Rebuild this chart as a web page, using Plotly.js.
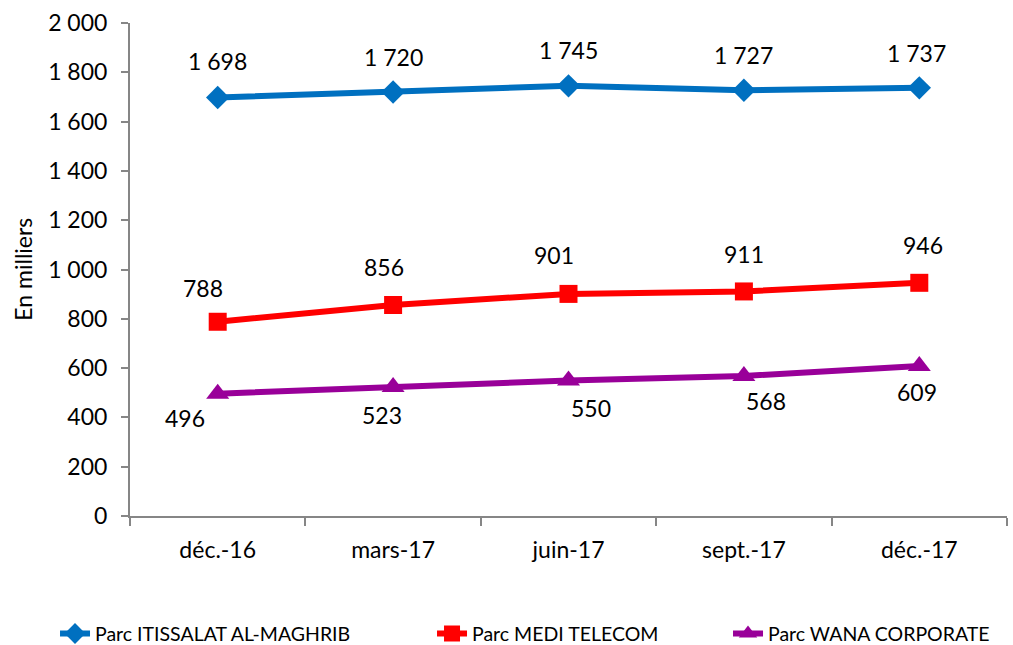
<!DOCTYPE html>
<html>
<head>
<meta charset="utf-8">
<script src="https://cdn.plot.ly/plotly-3.0.1.min.js"></script>
<style>html,body{margin:0;padding:0;background:#fff}#chart{width:1013px;height:645px}</style>
</head>
<body>
<div id="chart"></div>
<script>
const categories = ["déc.-16", "mars-17", "juin-17", "sept.-17", "déc.-17"];
const seriesNames = ["Parc ITISSALAT AL-MAGHRIB", "Parc MEDI TELECOM", "Parc WANA CORPORATE"];
const iamValues = [1698, 1720, 1745, 1727, 1737];
const mediValues = [788, 856, 901, 911, 946];
const wanaValues = [496, 523, 550, 568, 609];
const yTickValues = [0, 200, 400, 600, 800, 1000, 1200, 1400, 1600, 1800, 2000];

// label offsets (px) – styling only
const labelShift = [
  {dx: [0, 0, 0, 0, -3], dy: [36, 35, 36, 35, 35]},
  {dx: [-15, -9, -15, 0, 4], dy: [34, 38, 39, 37, 38]},
  {dx: [-33, -11, 22, 22, -2], dy: [-24, -28, -28, -25, -26]}
];
const colors = ["#0070C0", "#FF0000", "#990099"];
const symbols = ["diamond", "square", "triangle-up"];
const sizes = [18, 18, 20];
const legendWidths = [332, 251, 224];
const allValues = [iamValues, mediValues, wanaValues];

function fmt(v) {
  const s = String(v);
  return s.length > 3 ? s.slice(0, s.length - 3) + " " + s.slice(-3) : s;
}

const FONT = "Lato, 'Open Sans', sans-serif";

const traces = allValues.map((vals, i) => ({
  type: "scatter",
  mode: "lines+markers",
  name: seriesNames[i],
  x: categories,
  y: vals,
  line: {color: colors[i], width: 6},
  marker: {symbol: symbols[i], size: sizes[i], color: colors[i], line: {width: 0}},
  legendwidth: legendWidths[i],
  hoverinfo: "x+y"
}));

const annotations = [];
allValues.forEach((vals, i) => {
  vals.forEach((v, j) => {
    annotations.push({
      x: categories[j], y: v, xref: "x", yref: "y",
      text: fmt(v), showarrow: false,
      xshift: labelShift[i].dx[j], yshift: labelShift[i].dy[j],
      font: {family: FONT, size: 23, color: "#000"}
    });
  });
});

annotations.push({
  xref: "paper", yref: "paper", x: -0.123, y: 0.5,
  text: "En milliers", textangle: -90, showarrow: false,
  xanchor: "center", yanchor: "middle",
  font: {family: FONT, size: 23, color: "#000"}
});

const layout = {
  width: 1013, height: 645,
  margin: {l: 130, r: 6, t: 23, b: 129, autoexpand: false},
  paper_bgcolor: "#fff", plot_bgcolor: "#fff",
  separators: ", ",
  font: {family: FONT, color: "#000"},
  showlegend: true,
  legend: {
    orientation: "h", x: -0.0855, xanchor: "left", y: -0.239, yanchor: "middle",
    font: {family: FONT, size: 19.5, color: "#000"},
    traceorder: "normal"
  },
  xaxis: {
    type: "category", range: [-0.5, 4.5],
    showline: true, linecolor: "#868686", linewidth: 2,
    ticks: "outside", tickson: "boundaries", ticklen: 8, tickcolor: "#868686", tickwidth: 2,
    showgrid: false, zeroline: false,
    tickfont: {family: FONT, size: 23, color: "#000"},
    ticklabelstandoff: 12
  },
  yaxis: {
    range: [0, 2000], tickmode: "array", tickvals: yTickValues,
    ticktext: yTickValues.map(fmt),
    showline: true, linecolor: "#868686", linewidth: 2,
    ticks: "outside", ticklen: 7, tickcolor: "#868686", tickwidth: 2,
    showgrid: false, zeroline: false,
    tickfont: {family: FONT, size: 23, color: "#000"},
    ticklabelstandoff: 9
  },
  annotations: annotations
};

Plotly.newPlot("chart", traces, layout, {displayModeBar: false, staticPlot: true});
</script>
</body>
</html>
